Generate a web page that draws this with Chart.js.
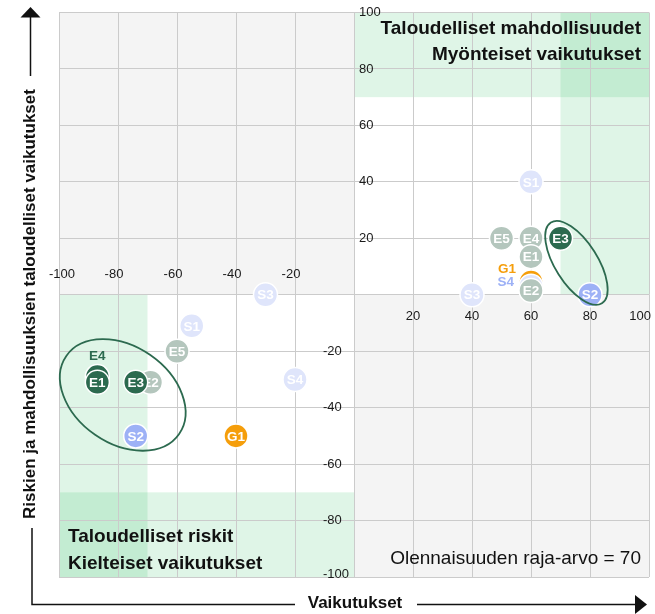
<!DOCTYPE html>
<html>
<head>
<meta charset="utf-8">
<script src="https://cdn.jsdelivr.net/npm/chart.js@4.4.1/dist/chart.umd.min.js"></script>
<style>
html, body { margin:0; padding:0; background:#fff; }
#wrap { width:655px; height:614px; }
</style>
</head>
<body>
<div id="wrap"><canvas id="chart" width="655" height="614"></canvas></div>
<script>
"use strict";
// aiheet
const topics = ["E1", "E2", "E3", "E4", "E5", "S1", "S2", "S3", "S4", "G1"];
// myönteiset vaikutukset / mahdollisuudet
const posX = [60, 60, 70, 60, 50, 60, 80, 40, 60, 60];
const posY = [13.5, 1.5, 20, 20, 20, 40, 0, 0, 3, 4.5];
// kielteiset vaikutukset / riskit
const negX = [-87, -69, -74, -87, -60, -55, -74, -30, -20, -40];
const negY = [-31, -31, -31, -29, -20, -11, -50, 0, -30, -50];
const tickVals = [-100, -80, -60, -40, -20, 20, 40, 60, 80, 100];
const threshold = 70;

const fontFam = '"Liberation Sans", Arial, sans-serif';
const colors = {
    E: {strong: "#2c6a4f", weak: "#b4c6bd"},
    S: {strong: "#9db1f6", weak: "#dfe5fb"},
    G: {strong: "#f59e0b", weak: "#f59e0b"}
};
// pienempi = päällimmäisenä
const layer = {E3: 0, E1: 1, E5: 2, E2: 3, E4: 4, S1: 5, S2: 5, S3: 5, S4: 6, G1: 7};
// pisteet jotka jäävät toisten alle -> nimi pisteen viereen
const outsideLabels = [
    {topic: "E4", side: 1, dx: 0, dy: -20, align: "center"},
    {topic: "G1", side: 0, dx: -15, dy: -13, align: "right"},
    {topic: "S4", side: 0, dx: -17, dy: -4, align: "right"}
];
const ellipses = [
    {cx: 75.4, cy: 11.3, rx: 47.8, ry: 21.2, rot: 57.7},
    {cx: -78.4, cy: -35.5, rx: 68.6, ry: 48.5, rot: 34.7}
];

function pointColor(t, x, y){
    let grp = colors[t[0]];
    return (Math.abs(x) >= threshold || Math.abs(y) >= threshold) ? grp.strong : grp.weak;
}

let datasets = topics.map(function(t, i){
    return {
        label: t,
        data: [{x: posX[i], y: posY[i]}, {x: negX[i], y: negY[i]}],
        backgroundColor: [pointColor(t, posX[i], posY[i]), pointColor(t, negX[i], negY[i])],
        borderColor: "#ffffff",
        borderWidth: 1.5,
        pointRadius: 12,
        order: layer[t]
    };
});

function isOutside(t, side){
    return outsideLabels.some(o => o.topic == t && o.side == side);
}

const quadPlugin = {
    id: "quad",
    beforeDraw(chart){
        let ctx = chart.ctx, x = chart.scales.x, y = chart.scales.y;
        let x0 = x.getPixelForValue(0), y0 = y.getPixelForValue(0);
        let l = x.getPixelForValue(-100), r = x.getPixelForValue(100);
        let t = y.getPixelForValue(100), b = y.getPixelForValue(-100);
        let xp = x.getPixelForValue(threshold), xn = x.getPixelForValue(-threshold);
        let yp = y.getPixelForValue(threshold), yn = y.getPixelForValue(-threshold);
        ctx.save();
        ctx.fillStyle = "#ffffff";
        ctx.fillRect(0, 0, chart.width, chart.height);
        ctx.fillStyle = "#f4f4f4";
        ctx.fillRect(l, t, x0 - l, y0 - t);
        ctx.fillRect(x0, y0, r - x0, b - y0);
        ctx.fillStyle = "rgba(42,188,95,0.15)";
        ctx.fillRect(x0, t, r - x0, yp - t);
        ctx.fillRect(xp, t, r - xp, y0 - t);
        ctx.fillRect(l, yn, x0 - l, b - yn);
        ctx.fillRect(l, y0, xn - l, b - y0);
        ctx.restore();
    },
    beforeDatasetsDraw(chart){
        let ctx = chart.ctx, x = chart.scales.x, y = chart.scales.y;
        let x0 = x.getPixelForValue(0), y0 = y.getPixelForValue(0);
        let l = x.getPixelForValue(-100), r = x.getPixelForValue(100);
        let t = y.getPixelForValue(100), b = y.getPixelForValue(-100);
        ctx.save();
        ctx.fillStyle = "#1a1a1a";
        ctx.font = "13px " + fontFam;
        ctx.textBaseline = "middle";
        for (const v of tickVals) {
            let s = String(v);
            let w = ctx.measureText(s).width;
            // x-akseli
            let px = x.getPixelForValue(v);
            let cx = v < 0 ? px - 4 : px;
            cx = Math.max(cx, l - 10 + w / 2);
            cx = Math.min(cx, chart.width - 4 - w / 2);
            ctx.textAlign = "center";
            ctx.fillText(s, cx, v < 0 ? y0 - 20 : y0 + 22);
            // y-akseli
            let py = y.getPixelForValue(v);
            py = Math.min(py, b - 3);
            ctx.textAlign = "left";
            ctx.fillText(s, v < 0 ? x0 - 31 : x0 + 5, py);
        }
        ctx.fillStyle = "#111";
        ctx.font = "bold 19px " + fontFam;
        ctx.textAlign = "right";
        ctx.fillText("Taloudelliset mahdollisuudet", r - 8, t + 16);
        ctx.fillText("Myönteiset vaikutukset", r - 8, t + 42);
        ctx.textAlign = "left";
        ctx.fillText("Taloudelliset riskit", l + 9, b - 40);
        ctx.fillText("Kielteiset vaikutukset", l + 9, b - 13);
        ctx.font = "19px " + fontFam;
        ctx.textAlign = "right";
        ctx.fillText("Olennaisuuden raja-arvo = " + threshold, r - 8, b - 18);
        ctx.restore();
    },
    afterDatasetDraw(chart, args){
        let ctx = chart.ctx;
        let t = chart.data.datasets[args.index].label;
        ctx.save();
        ctx.fillStyle = "#ffffff";
        ctx.font = "bold 13.5px " + fontFam;
        ctx.textAlign = "center";
        ctx.textBaseline = "middle";
        args.meta.data.forEach(function(el, side){
            if (!isOutside(t, side))
                ctx.fillText(t, el.x, el.y + 1);
        });
        ctx.restore();
    },
    afterDatasetsDraw(chart){
        let ctx = chart.ctx, x = chart.scales.x, y = chart.scales.y;
        ctx.save();
        ctx.font = "bold 13.5px " + fontFam;
        ctx.textBaseline = "middle";
        for (const o of outsideLabels) {
            let i = topics.indexOf(o.topic);
            let el = chart.getDatasetMeta(i).data[o.side];
            ctx.fillStyle = colors[o.topic[0]].strong;
            ctx.textAlign = o.align;
            ctx.fillText(o.topic, el.x + o.dx, el.y + o.dy);
        }
        ctx.strokeStyle = "#2c6a4f";
        ctx.lineWidth = 1.8;
        for (const e of ellipses) {
            ctx.beginPath();
            ctx.ellipse(x.getPixelForValue(e.cx), y.getPixelForValue(e.cy), e.rx, e.ry, e.rot * Math.PI / 180, 0, Math.PI * 2);
            ctx.stroke();
        }
        ctx.restore();
    },
    afterDraw(chart){
        let ctx = chart.ctx;
        ctx.save();
        ctx.strokeStyle = "#111";
        ctx.fillStyle = "#111";
        ctx.lineWidth = 1.5;
        // pystynuoli
        ctx.beginPath();
        ctx.moveTo(30.5, 76); ctx.lineTo(30.5, 16);
        ctx.stroke();
        ctx.beginPath();
        ctx.moveTo(20.5, 17.5); ctx.lineTo(40.5, 17.5); ctx.lineTo(30.5, 7);
        ctx.closePath(); ctx.fill();
        // kulma
        ctx.beginPath();
        ctx.moveTo(32, 528); ctx.lineTo(32, 604.5); ctx.lineTo(295, 604.5);
        ctx.stroke();
        ctx.beginPath();
        ctx.moveTo(417, 604.5); ctx.lineTo(636, 604.5);
        ctx.stroke();
        ctx.beginPath();
        ctx.moveTo(635, 595); ctx.lineTo(635, 614); ctx.lineTo(647, 604.5);
        ctx.closePath(); ctx.fill();
        ctx.font = "bold 17px " + fontFam;
        ctx.textAlign = "center";
        ctx.textBaseline = "middle";
        ctx.fillText("Vaikutukset", 355, 603);
        ctx.translate(30, 304);
        ctx.rotate(-Math.PI / 2);
        ctx.fillText("Riskien ja mahdollisuuksien taloudelliset vaikutukset", 0, 0);
        ctx.restore();
    }
};

let axisOpts = {
    type: "linear",
    min: -100,
    max: 100,
    ticks: {display: false, stepSize: 20},
    grid: {color: "#cbcbcb", drawTicks: false},
    border: {display: false}
};

new Chart(document.getElementById("chart"), {
    type: "scatter",
    data: {datasets: datasets},
    options: {
        responsive: false,
        animation: false,
        events: [],
        layout: {autoPadding: false, padding: {left: 59, right: 6, top: 12.5, bottom: 37}},
        plugins: {legend: {display: false}, tooltip: {enabled: false}},
        scales: {
            x: Object.assign({}, axisOpts, {position: "bottom"}),
            y: Object.assign({}, axisOpts, {position: "left"})
        }
    },
    plugins: [quadPlugin]
});
</script>
</body>
</html>
